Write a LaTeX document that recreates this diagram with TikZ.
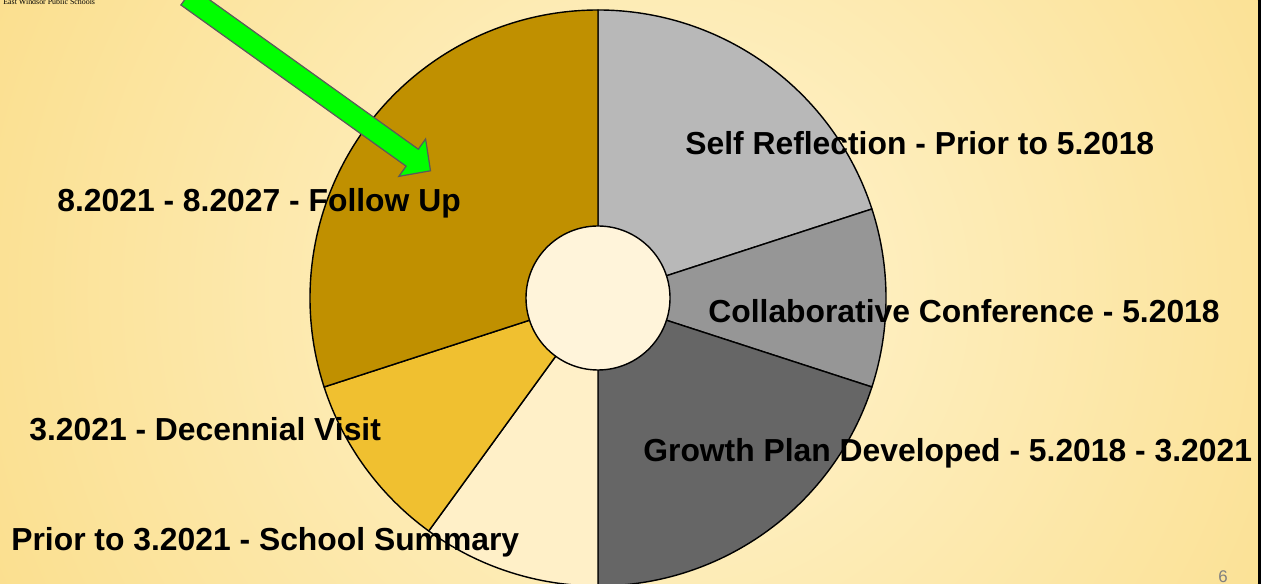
\documentclass[tikz,border=0pt]{standalone}
\usepackage{fontspec}
\setmainfont{Liberation Sans}
\newfontfamily\headerfont{Liberation Serif}
\definecolor{bgin}{HTML}{FFF4D0}
\definecolor{bgout}{HTML}{F8D266}
\definecolor{selfgray}{HTML}{B8B8B8}
\definecolor{collabgray}{HTML}{969696}
\definecolor{growthgray}{HTML}{666666}
\definecolor{summary}{HTML}{FFF0C8}
\definecolor{decennial}{HTML}{F0C030}
\definecolor{followup}{HTML}{C09000}
\definecolor{hub}{HTML}{FFF4DA}
\definecolor{arrowgreen}{HTML}{00FF00}
\definecolor{arrowedge}{HTML}{5A5A5A}
\definecolor{pagenum}{HTML}{7F7F7F}
\begin{document}
\begin{tikzpicture}[x=0.02cm, y=0.02cm,
  slice/.style={draw=black, line width=0.8pt, line join=round},
  phase/.style={font=\fontsize{18.12}{20}\selectfont\bfseries, inner sep=0pt, anchor=base west},
  blockarrow/.style={fill=arrowgreen, draw=arrowedge, line width=0.7pt, line join=miter}]
\useasboundingbox (0,0) rectangle (1267,584);
\clip (0,0) rectangle (1267,584);

% slide background
\fill[bgout] (0,0) rectangle (1267,584);
\begin{scope}
  \clip (0,0) rectangle (1257.5,584);
  \shade[inner color=bgin, outer color=bgout] (670,290) circle (1200);
\end{scope}
\fill[black] (1257.5,0) rectangle (1260.8,584);
\fill[white] (1260.8,0) rectangle (1267,584);

% timeline pie
\begin{scope}[shift={(598,286)}]
  \filldraw[slice, fill=selfgray]   (0,0) -- (90:288)  arc[start angle=90,  end angle=18,   radius=288] -- cycle;
  \filldraw[slice, fill=collabgray] (0,0) -- (18:288)  arc[start angle=18,  end angle=-18,  radius=288] -- cycle;
  \filldraw[slice, fill=growthgray] (0,0) -- (-18:288) arc[start angle=-18, end angle=-90,  radius=288] -- cycle;
  \filldraw[slice, fill=summary]    (0,0) -- (-90:288) arc[start angle=-90, end angle=-126, radius=288] -- cycle;
  \filldraw[slice, fill=decennial]  (0,0) -- (234:288) arc[start angle=234, end angle=198,  radius=288] -- cycle;
  \filldraw[slice, fill=followup]   (0,0) -- (198:288) arc[start angle=198, end angle=90,   radius=288] -- cycle;
  \filldraw[slice, fill=hub] (0,0) circle (72);
\end{scope}

% green pointer
\filldraw[blockarrow] (180.9,579.0) -- (406.1,417.8) -- (398.8,407.6) -- (430.5,413.2)
  -- (425.6,445.0) -- (418.3,434.8) -- (193.1,596.0) -- cycle;

% phase labels
\node[phase] (selfref)   at (685,429.5) {Self Reflection - Prior to 5.2018};
\node[phase] (collab)    at (708,261.5) {Collaborative Conference - 5.2018};
\node[phase] (growth)    at (643,122.5) {Growth Plan Developed - 5.2018 - 3.2021};
\node[phase] (followlbl) at (57,372.5)  {8.2021 - 8.2027 - Follow Up};
\node[phase] (visit)     at (29,143.5)  {3.2021 - Decennial Visit};
\node[phase] (summarylbl) at (11,33)    {Prior to 3.2021 - School Summary};

% header and page number
\node[font=\headerfont\fontsize{4.5}{5}\selectfont, inner sep=0pt, anchor=base west] (header) at (3,579) {East Windsor Public Schools};
\node[font=\fontsize{9.6}{10}\selectfont, text=pagenum, inner sep=0pt, anchor=base west] (pageno) at (1218,1) {6};
\end{tikzpicture}
\end{document}
